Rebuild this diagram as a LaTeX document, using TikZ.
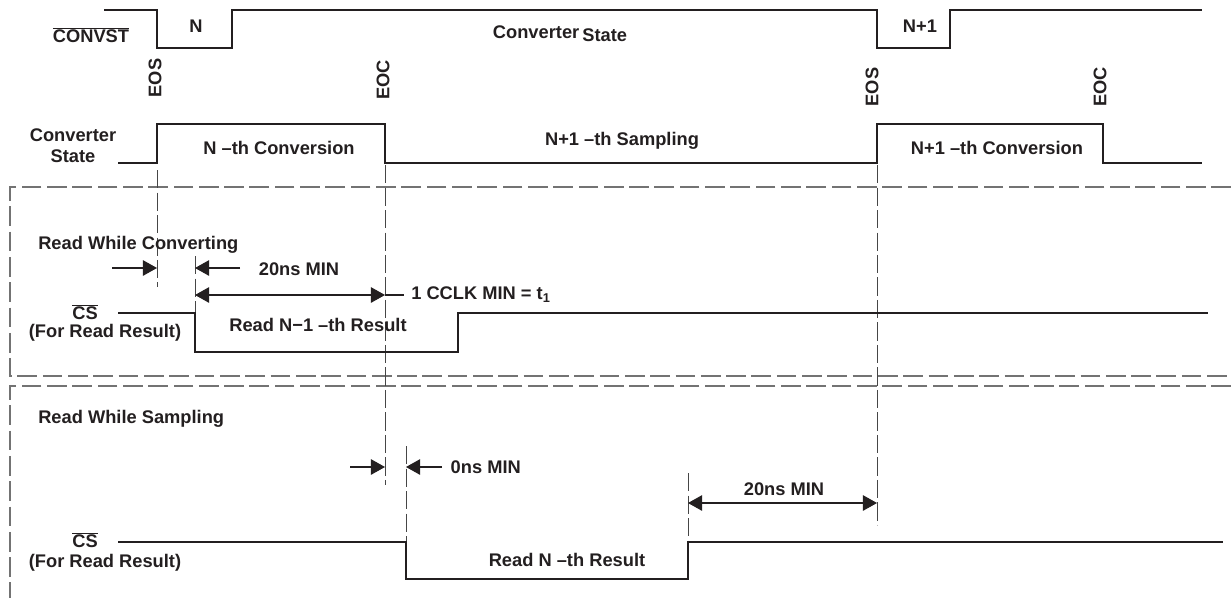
\documentclass[tikz,border=0pt]{standalone}
\usepackage{fontspec}
\setmainfont{Liberation Sans}
\usetikzlibrary{arrows.meta, positioning}
\definecolor{sigblack}{RGB}{35,31,32}
\definecolor{boxgray}{RGB}{115,115,115}
\definecolor{guidegray}{RGB}{70,70,70}
\tikzset{
  signal/.style={line width=1.2pt, color=sigblack},
  boldsignal/.style={line width=1.7pt, color=sigblack},
  boxline/.style={dash pattern=on 14pt off 4pt, line width=1pt, color=boxgray},
  guide/.style={dash pattern=on 13pt off 3pt, line width=0.7pt, color=guidegray},
  dim/.style={line width=0.8pt, color=sigblack},
  txt/.style={font=\fontsize{13}{15}\selectfont\bfseries, inner sep=0pt, text=sigblack},
  vtxt/.style={txt, rotate=90}
}

\begin{document}
\begin{tikzpicture}[x=0.025cm, y=-0.025cm, >={Triangle[length=10pt,width=11pt]}]
  \useasboundingbox (0,0) rectangle (1231,598);

  \draw [boxline] (1231,187) -| (10,376) -- (1231,376);
  \draw [boxline] (1231,386) -| (10,598);

  \draw [guide] (157,170) -- (157,287);
  \draw [guide] (385,165) -- (385,485);
  \draw [guide] (877,165) -- (877,525);
  \draw [guide] (195,256) -- (195,313);
  \draw [guide] (406,446) -- (406,542);
  \draw [guide] (688,473) -- (688,542);

  \draw [signal] (104,10) -| (157,48) -| (232,10) -| (877,48) -| (950,10) -- (1202,10);
  \draw [signal] (118,163) -| (157,124) -| (385,163) -| (877,124) -| (1103,163) -- (1202,163);
  \draw [signal] (118,313) -| (195,352) -| (458,313) -- (1208,313);
  \draw [boldsignal] (118,542) -| (406,579) -| (688,542) -- (1223,542);

  \node [txt] (convst) at (91,35) {$\overline{\mbox{CONVST}}$};
  \node [txt] (slotN) at (196,26) {N};
  \node [txt] (slotN1) at (920,26) {N+1};
  \node [txt] (topstate) at (560,34) {Converter\,\raisebox{-2pt}{State}};
  \node [vtxt] (eosN) at (155,78) {EOS};
  \node [vtxt] (eocN) at (383,80) {EOC};
  \node [vtxt] (eosN1) at (872,87) {EOS};
  \node [vtxt] (eocN1) at (1100,87) {EOC};

  \node [txt, align=center] (statelbl) at (73,146) {Converter\\State};
  \node [txt] (convN) at (279,148) {N \textendash th Conversion};
  \node [txt] (sampN1) at (622,141) {N+1 \textendash th Sampling};
  \node [txt] (convN1) at (997,148) {N+1 \textendash th Conversion};

  \node [txt, anchor=base west] (rwc) at (38,249) {Read While Converting};
  \coordinate (rcL) at (112,268);
  \coordinate (rcA) at (157,268);
  \coordinate (rcB) at (195,268);
  \coordinate (rcR) at (240,268);
  \draw [dim, ->] (rcL) -- (rcA);
  \draw [dim, ->] (rcR) -- (rcB);
  \node [txt] (minA) at (299,269) {20ns MIN};
  \coordinate (ccA) at (195,295);
  \coordinate (ccB) at (385,295);
  \coordinate (ccC) at (404,295);
  \draw [dim, <->] (ccA) -- (ccB);
  \draw [dim] (ccB) -- (ccC);
  \node [txt, right=5pt of ccC] (cclk) {1 CCLK MIN = t\textsubscript{1}};
  \node [txt] (csA) at (85,312) {$\overline{\mbox{CS}}$};
  \node [txt] (forA) at (105,333) {(For Read Result)};
  \node [txt] (readA) at (318,325) {Read N−1 \textendash th Result};

  \node [txt, anchor=base west] (rws) at (38,423) {Read While Sampling};
  \coordinate (rsL) at (350,467);
  \coordinate (rsA) at (385,467);
  \coordinate (rsB) at (406,467);
  \coordinate (rsR) at (442,467);
  \draw [dim, ->] (rsL) -- (rsA);
  \draw [dim, ->] (rsR) -- (rsB);
  \node [txt, right=6pt of rsR] (minB) {0ns MIN};
  \coordinate (twA) at (688,503);
  \coordinate (twB) at (877,503);
  \draw [dim, <->] (twA) -- (twB);
  \node [txt] (minC) at (784,489) {20ns MIN};
  \node [txt] (csB) at (85,540) {$\overline{\mbox{CS}}$};
  \node [txt] (forB) at (105,563) {(For Read Result)};
  \node [txt] (readB) at (567,560) {Read N \textendash th Result};
\end{tikzpicture}
\end{document}
